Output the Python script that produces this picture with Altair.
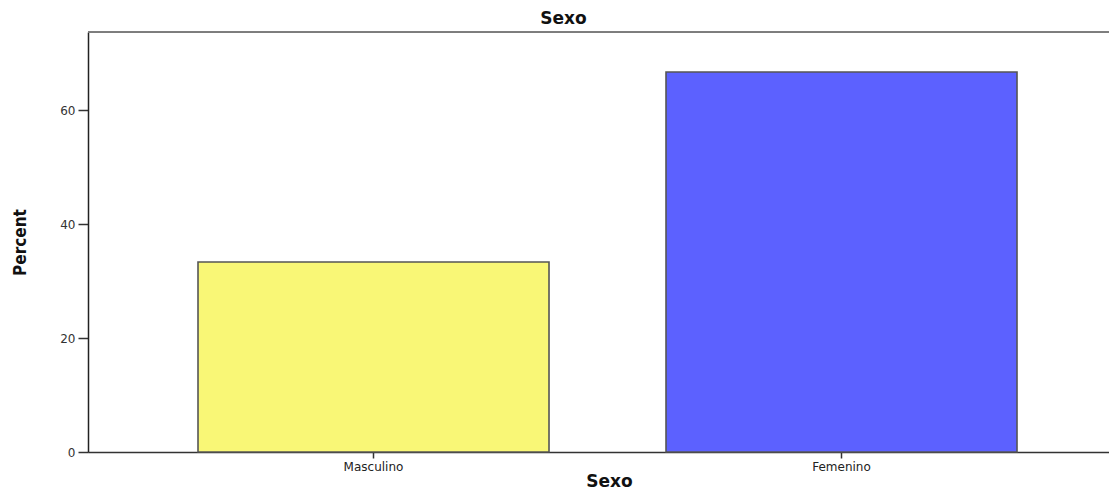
import altair as alt
import pandas as pd

categories = ["Masculino", "Femenino"]
percents = [33.33, 66.67]
colors = ["#F9F776", "#5C61FF"]

df = pd.DataFrame({"Sexo": categories, "Percent": percents, "color": colors})

W, H = 1021, 420
YMAX = 73.7
WIDE = "DejaVu Sans, Verdana, sans-serif"
NARROW = "DejaVu Sans Condensed, Liberation Sans Narrow, Arial Narrow, sans-serif"

bars = alt.Chart(df).mark_bar(stroke="#555555", strokeWidth=1.6).encode(
    x=alt.X("Sexo:N", sort=categories,
            scale=alt.Scale(paddingInner=0.25, paddingOuter=0.2158, align=0.5446),
            axis=alt.Axis(title="Sexo", labelAngle=0, labelFont=WIDE,
                          labelFontSize=12, labelColor="#222222", labelPadding=3,
                          tickSize=6, tickColor="#333333", domainColor="#333333",
                          domainWidth=1.5, tickWidth=1.5,
                          titleFont=WIDE, titleFontSize=17, titleFontWeight="bold",
                          titleColor="#111111", titleX=521, titleY=29, titleBaseline="middle")),
    y=alt.Y("Percent:Q", scale=alt.Scale(domain=[0, YMAX], nice=False),
            axis=alt.Axis(values=[0, 20, 40, 60], title="Percent", grid=False,
                          labelFont=WIDE, labelFontSize=12, labelColor="#333333",
                          labelPadding=3, tickSize=10, tickColor="#333333", tickWidth=1.5,
                          domainColor="#222222", domainWidth=1.5,
                          titleFont=NARROW, titleFontSize=17,
                          titleFontWeight="bold", titleColor="#111111",
                          titleX=-68, titleY=210, titleAngle=270, titleBaseline="middle",
                          titleAlign="center")),
    color=alt.Color("color:N", scale=None),
)

top_line = alt.Chart(df).mark_rule(color="#777777", strokeWidth=1.5).encode(
    y=alt.datum(YMAX)
)

chart = alt.layer(bars, top_line).properties(
    width=W, height=H,
    autosize=alt.AutoSizeParams(type="none"),
    padding={"left": 80, "top": 24, "right": 0, "bottom": 40},
    title=alt.TitleParams("Sexo", font=WIDE, fontSize=17, fontWeight="bold",
                          color="#111111", anchor="middle", frame="group", dx=-35, offset=3),
).configure_view(stroke=None).configure(background="white")

chart.save("out.html", embed_options={"renderer": "svg", "actions": False})
